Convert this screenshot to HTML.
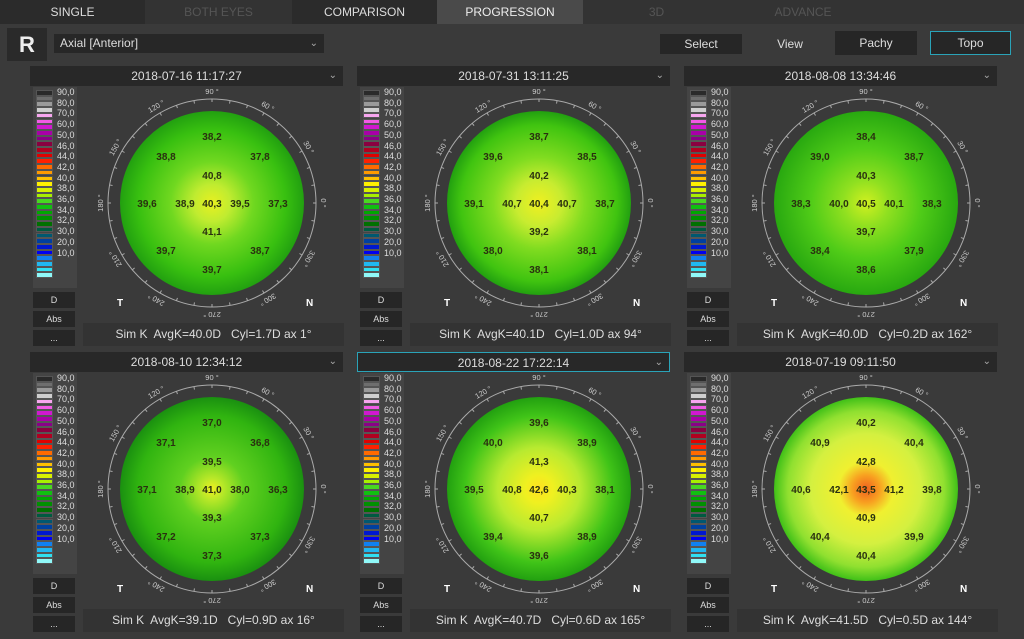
<!DOCTYPE html><html><head><meta charset="utf-8"><style>
body{margin:0;width:1024px;height:639px;background:#3a3a3a;font-family:"Liberation Sans",sans-serif;overflow:hidden;position:relative;color:#eee}
.a{position:absolute;box-sizing:border-box}
.tab{top:0;height:24px;font-size:12px;text-align:center;line-height:24px;background:#2b2b2b}
.btn{background:#262626;font-size:11px;text-align:center;color:#ddd}
</style></head><body>
<div class="a tab" style="left:0;width:145px;color:#ddd">SINGLE</div>
<div class="a tab" style="left:145px;width:147px;background:#333;color:#555">BOTH EYES</div>
<div class="a tab" style="left:292px;width:145px;color:#ddd">COMPARISON</div>
<div class="a tab" style="left:437px;width:146px;background:#4a4a4a;color:#eee">PROGRESSION</div>
<div class="a tab" style="left:583px;width:147px;background:#333;color:#555">3D</div>
<div class="a tab" style="left:730px;width:146px;background:#333;color:#555">ADVANCE</div>
<div class="a tab" style="left:876px;width:148px;background:#333"></div>
<div class="a" style="left:7px;top:28px;width:40px;height:33px;background:#2a2a2a;font-size:22px;font-weight:bold;text-align:center;line-height:33px">R</div>
<div class="a" style="left:54px;top:34px;width:270px;height:19px;background:#272727;font-size:12px;line-height:19px;padding-left:6px;color:#ddd">Axial [Anterior]<span style="position:absolute;right:6px;color:#aaa;font-size:10px">&#8964;</span></div>
<div class="a btn" style="left:660px;top:34px;width:82px;height:20px;line-height:20px;font-size:12px">Select</div>
<div class="a" style="left:760px;top:34px;width:60px;height:20px;line-height:20px;font-size:12px;text-align:center;color:#ddd">View</div>
<div class="a btn" style="left:835px;top:31px;width:82px;height:24px;line-height:24px;font-size:12px">Pachy</div>
<div class="a btn" style="left:930px;top:31px;width:81px;height:24px;line-height:22px;font-size:12px;border:1px solid #2aa3b8">Topo</div>
<div id="root"></div>
<script>
const cols=["#2a2a2a","#6e6e6e","#9a9a9a","#cfcfcf","#f7a6ef","#f25ae6","#d018d0","#a800a8","#8a0088","#8a0040","#b00020","#e00000","#ff2000","#ff6a00","#ff9a00","#ffc000","#fff000","#d8f000","#a8f000","#48d820","#10c010","#00a800","#009000","#007000","#005a40","#005870","#0040a0","#0018d0","#0000f0","#1080f0","#20b8f0","#30e0f0","#90f8f8"];
const labs=["90,0","80,0","70,0","60,0","50,0","46,0","44,0","42,0","40,0","38,0","36,0","34,0","32,0","30,0","20,0","10,0"];
const G1=[[0,"#e8f020"],[0.2,"#c0ec30"],[0.45,"#70d820"],[0.8,"#38c010"],[1,"#22a010"]];
const P=[
["2018-07-16 11:17:27","Sim K  AvgK=40.0D   Cyl=1.7D ax 1°",["38,2","38,8","37,8","40,8","39,6","38,9","40,3","39,5","37,3","41,1","39,7","38,7","39,7"],G1],
["2018-07-31 13:11:25","Sim K  AvgK=40.1D   Cyl=1.0D ax 94°",["38,7","39,6","38,5","40,2","39,1","40,7","40,4","40,7","38,7","39,2","38,0","38,1","38,1"],[[0,"#f0f020"],[0.25,"#c8ec30"],[0.5,"#80dc20"],[0.85,"#40c410"],[1,"#22a010"]]],
["2018-08-08 13:34:46","Sim K  AvgK=40.0D   Cyl=0.2D ax 162°",["38,4","39,0","38,7","40,3","38,3","40,0","40,5","40,1","38,3","39,7","38,4","37,9","38,6"],[[0,"#d0f020"],[0.25,"#90e020"],[0.6,"#50cc18"],[1,"#28a810"]]],
["2018-08-10 12:34:12","Sim K  AvgK=39.1D   Cyl=0.9D ax 16°",["37,0","37,1","36,8","39,5","37,1","38,9","41,0","38,0","36,3","39,3","37,2","37,3","37,3"],[[0,"#f0f020"],[0.12,"#b8e828"],[0.35,"#60d020"],[0.8,"#30b410"],[1,"#1a9010"]]],
["2018-08-22 17:22:14","Sim K  AvgK=40.7D   Cyl=0.6D ax 165°",["39,6","40,0","38,9","41,3","39,5","40,8","42,6","40,3","38,1","40,7","39,4","38,9","39,6"],[[0,"#ffe020"],[0.15,"#f0f020"],[0.45,"#b8ea30"],[0.8,"#40c418"],[1,"#22a010"]]],
["2018-07-19 09:11:50","Sim K  AvgK=41.5D   Cyl=0.5D ax 144°",["40,2","40,9","40,4","42,8","40,6","42,1","43,5","41,2","39,8","40,9","40,4","39,9","40,4"],[[0,"#f06020"],[0.15,"#f8a020"],[0.3,"#f0f030"],[0.6,"#d4f040"],[0.85,"#90e030"],[1,"#40c018"]]]];
const LP=[[0,-67],[-46,-47],[48,-47],[0,-28],[-65,0],[-27,0],[0,0],[28,0],[66,0],[0,28],[-46,47],[48,47],[0,66]];
let h="";
P.forEach((p,i)=>{
 const ox=30+(i%3)*327, oy=i<3?0:286;
 const hb=i==4?"border:1px solid #2aa3b8;":"";
 h+=`<div class="a" style="left:${ox}px;top:${66+oy}px;width:313px;height:20px;background:#282828;${hb}font-size:12px;text-align:center;line-height:20px;color:#ddd">${p[0]}<span style="position:absolute;right:6px;color:#aaa;font-size:10px">&#8964;</span></div>`;
 h+=`<div class="a" style="left:${ox+3}px;top:${87+oy}px;width:44px;height:201px;background:#444"></div>`;
 cols.forEach((c,k)=>{h+=`<div class="a" style="left:${ox+6}px;top:${90+oy+k*5.7}px;width:17px;height:5.7px;background:${c};border:1px solid #555"></div>`});
 labs.forEach((l,k)=>{h+=`<div class="a" style="left:${ox+27}px;top:${87+oy+k*10.7}px;font-size:9px;color:#ddd">${l}</div>`});
 [["D",292],["Abs",311],["...",330]].forEach(b=>{h+=`<div class="a btn" style="left:${ox+3}px;top:${b[1]+oy}px;width:42px;height:16px;line-height:16px;font-size:9px">${b[0]}</div>`});
 h+=`<div class="a" style="left:${ox+53}px;top:${323+oy}px;width:261px;height:23px;background:#333;font-size:12px;text-align:center;line-height:23px;color:#ddd;white-space:pre">${p[1]}</div>`;
 const cx=182,cy=203;
 let s=`<svg class="a" style="left:${ox}px;top:${oy}px" width="314" height="320"><defs><radialGradient id="g${i}">${p[3].map(q=>`<stop offset="${q[0]}" stop-color="${q[1]}"/>`).join("")}</radialGradient></defs>`;
 s+=`<circle cx="${cx}" cy="${cy}" r="104" fill="none" stroke="#aaa" stroke-width="1"/>`;
 for(let a=0;a<360;a+=10){const r=a*Math.PI/180;s+=`<line x1="${cx+104*Math.cos(r)}" y1="${cy-104*Math.sin(r)}" x2="${cx+101*Math.cos(r)}" y2="${cy-101*Math.sin(r)}" stroke="#aaa"/>`;}
 s+=`<circle cx="${cx}" cy="${cy}" r="92" fill="url(#g${i})"/>`;
 for(let a=0;a<360;a+=30){const r=a*Math.PI/180,x=cx+111*Math.cos(r),y=cy-111*Math.sin(r);s+=`<text x="${x}" y="${y}" font-size="7.5" fill="#ccc" text-anchor="middle" dominant-baseline="middle" transform="rotate(${90-a} ${x} ${y})">${a} °</text>`;}
 p[2].forEach((t,k)=>{s+=`<text x="${cx+LP[k][0]}" y="${cy+LP[k][1]+4}" font-size="10" font-weight="bold" fill="#2a3010" text-anchor="middle">${t}</text>`});
 s+=`<text x="87" y="306" font-size="10" font-weight="bold" fill="#fff">T</text><text x="276" y="306" font-size="10" font-weight="bold" fill="#fff">N</text></svg>`;
 h+=s;
});
document.getElementById("root").innerHTML=h;
</script></body></html>
